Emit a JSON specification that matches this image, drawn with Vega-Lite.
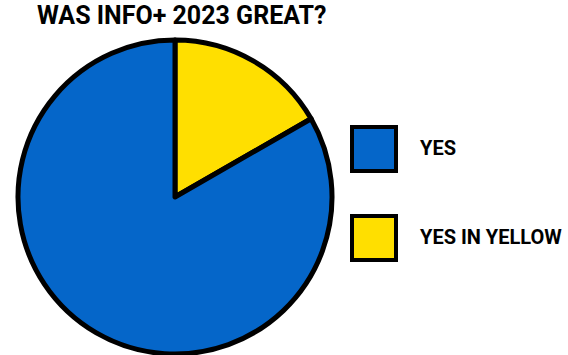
{
  "$schema": "https://vega.github.io/schema/vega-lite/v6.json",
  "autosize": "none",
  "width": 316,
  "height": 314,
  "padding": {"left": 17, "top": 40, "right": 235, "bottom": 1},
  "background": "white",
  "title": {
    "text": "WAS INFO+ 2023 GREAT?",
    "anchor": "start",
    "frame": "group",
    "dx": 20,
    "offset": 9,
    "font": "Roboto",
    "fontSize": 25,
    "fontWeight": "bold",
    "color": "black"
  },
  "data": {
    "values": [
      {"answer": "YES IN YELLOW", "share": 16.7, "ord": 1},
      {"answer": "YES", "share": 83.3, "ord": 2}
    ]
  },
  "mark": {"type": "arc", "stroke": "black", "strokeWidth": 5, "strokeJoin": "round"},
  "encoding": {
    "theta": {"field": "share", "type": "quantitative", "stack": true},
    "order": {"field": "ord", "type": "quantitative"},
    "color": {
      "field": "answer",
      "type": "nominal",
      "scale": {"domain": ["YES", "YES IN YELLOW"], "range": ["#0566C9", "#FFDF00"]},
      "legend": {
        "title": null,
        "orient": "none",
        "legendX": 333,
        "legendY": 85,
        "symbolType": "square",
        "symbolSize": 1936,
        "symbolStrokeColor": "black",
        "symbolStrokeWidth": 4,
        "symbolOpacity": 1,
        "rowPadding": 29,
        "labelOffset": 22,
        "labelFont": "Roboto",
        "labelFontSize": 20,
        "labelFontWeight": "bold",
        "labelColor": "black",
        "padding": 0
      }
    }
  },
  "config": {"view": {"stroke": null}}
}
